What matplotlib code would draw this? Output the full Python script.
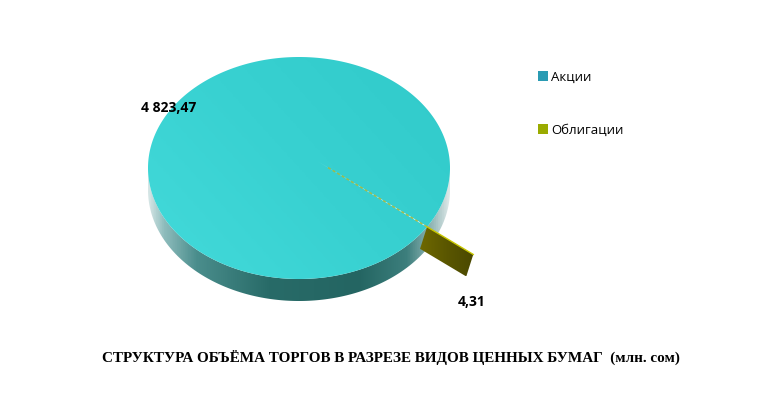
import numpy as np
import matplotlib
matplotlib.use("Agg")
import matplotlib.pyplot as plt
from matplotlib.patches import Polygon, Patch
from matplotlib.colors import LinearSegmentedColormap

# data
categories = ["Акции", "Облигации"]
values = [4823.47, 4.31]
value_labels = ["4 823,47", "4,31"]
legend_colors = ["#2a9bb3", "#9aab00"]
title = "СТРУКТУРА ОБЪЁМА ТОРГОВ В РАЗРЕЗЕ ВИДОВ ЦЕННЫХ БУМАГ  (млн. сом)"

# pie geometry (pixels)
cx, cy, rx, ry, depth = 299, 168, 151, 111, 22
apex = (317, 161)
small_mid = -32.0      # direction of the small slice, degrees
explode = 0.42

fig = plt.figure(figsize=(7.57, 3.94), dpi=100)
ax = fig.add_axes([0, 0, 1, 1])
ax.set_xlim(0, 757)
ax.set_ylim(394, 0)
ax.axis("off")


def pt(th, dy=0.0):
    t = np.radians(th)
    return cx + rx * np.cos(t), cy - ry * np.sin(t) + dy


total = sum(values)
spans = [360.0 * v / total for v in values]
a_small0 = small_mid - spans[1] / 2
a_small1 = small_mid + spans[1] / 2
a_big0, a_big1 = a_small1, a_small1 + spans[0]

# side of the big slice (front half only)
side_polys = []
for lo, hi in [(180, a_small0 + 360), (a_small1 + 360, 360)]:
    th = np.linspace(lo, hi, 200)
    top = np.array([pt(t) for t in th])
    bot = np.array([pt(t, depth) for t in th])[::-1]
    side_polys.append(np.vstack([top, bot]))

side_cmap = LinearSegmentedColormap.from_list("side", [
    (0.0, "#d6e6e6"), (0.05, "#8fbdbd"), (0.16, "#4a8d8c"), (0.4, "#286b68"),
    (0.7, "#246562"), (0.86, "#3d7f7d"), (0.95, "#9bbcbc"), (1.0, "#dde8e8")])
grad_x = np.linspace(0, 1, 400)[None, :]
for poly in side_polys:
    p = Polygon(poly, closed=True, facecolor="none", edgecolor="none")
    ax.add_patch(p)
    im = ax.imshow(grad_x, cmap=side_cmap, aspect="auto",
                   extent=[cx - rx, cx + rx, cy + ry + depth + 2, cy - 5], zorder=1)
    im.set_clip_path(p)

# top face of the big slice
th = np.linspace(a_big0, a_big1, 720)
top_poly = np.vstack([[apex], np.array([pt(t) for t in th])])
tp = Polygon(top_poly, closed=True, facecolor="none", edgecolor="none")
ax.add_patch(tp)
top_cmap = LinearSegmentedColormap.from_list("top", ["#43dada", "#38d1d1", "#31caca"])
yy, xx = np.mgrid[0:1:100j, 0:1:100j]
im = ax.imshow(0.6 * xx + 0.4 * (1 - yy), cmap=top_cmap, aspect="auto",
               extent=[cx - rx, cx + rx, cy + ry, cy - ry], zorder=2)
im.set_clip_path(tp)

# small slice: visible seam on top and exploded face
rim = np.array(pt(small_mid))
ap = np.array(apex, dtype=float)
d = rim - ap
seam_start = ap + 0.1 * d
ax.plot([seam_start[0], rim[0]], [seam_start[1], rim[1]], color="#a9b83a",
        lw=1.1, ls=(0, (2, 1.5)), alpha=0.9, zorder=3)
outer = rim + explode * d
shear = -7
face = np.array([rim, outer, outer + [shear, depth], rim + [shear, depth]])
fp = Polygon(face, closed=True, facecolor="none", edgecolor="none")
ax.add_patch(fp)
olive = LinearSegmentedColormap.from_list("olive", ["#6e6800", "#5a5600", "#4a4800"])
im = ax.imshow(grad_x, cmap=olive, aspect="auto",
               extent=[face[:, 0].min(), face[:, 0].max(), face[:, 1].max(), face[:, 1].min()],
               zorder=4)
im.set_clip_path(fp)
ax.plot([rim[0], outer[0]], [rim[1], outer[1]], color="#c9c800", lw=1.0, zorder=5)

# value labels
ax.text(169, 108, value_labels[0], fontsize=10, fontweight="bold",
        family="Open Sans", ha="center", va="center", zorder=6)
ax.text(472, 302, value_labels[1], fontsize=10, fontweight="bold",
        family="Open Sans", ha="center", va="center", zorder=6)

# legend
handles = [Patch(facecolor=c, edgecolor="none") for c in legend_colors]
leg = ax.legend(handles, categories, loc="upper left", bbox_to_anchor=(526 / 757, 1 - 59 / 394),
                frameon=False, handlelength=0.75, handleheight=0.75, handletextpad=0.25,
                labelspacing=3.0, prop={"family": "Open Sans", "size": 9.5})

# title
ax.text(391, 357, title, fontsize=10.9, fontweight="bold", family="Liberation Serif",
        ha="center", va="center")

fig.savefig("out.png", dpi=100)
